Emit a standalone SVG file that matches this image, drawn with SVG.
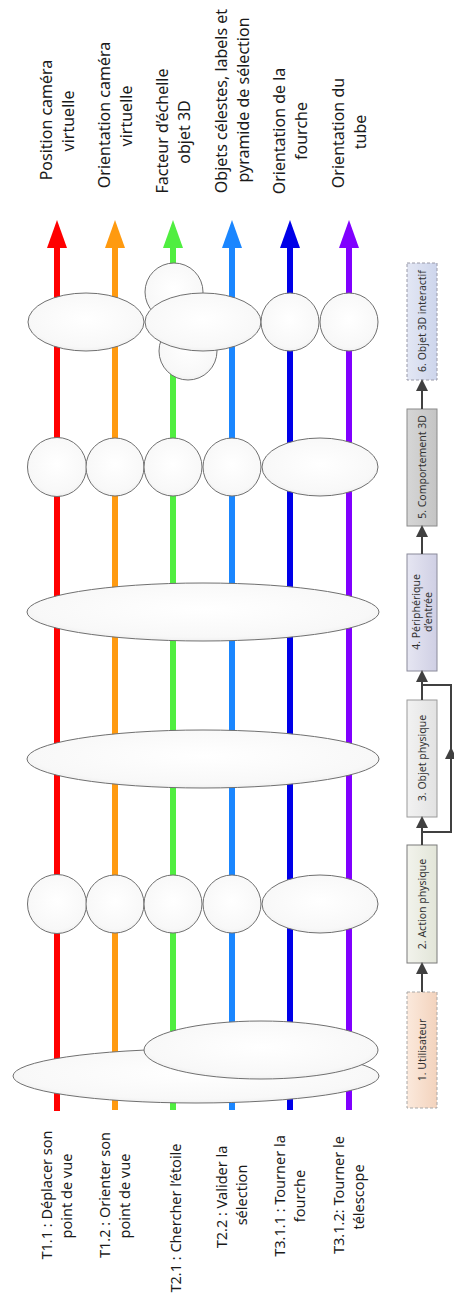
<svg xmlns="http://www.w3.org/2000/svg" width="454" height="1304" viewBox="0 0 454 1304">
<style>
.bg{fill:#ffffff}
.trk{fill:none;stroke-width:6}
.ell{fill:url(#eg);stroke:#707070;stroke-width:1}
.lb{font-family:"Noto Sans","Open Sans",sans-serif;font-size:14.5px;fill:#1a1a1a;text-anchor:middle}
.lt{font-family:"Noto Sans","Open Sans",sans-serif;font-size:16px;fill:#1a1a1a;text-anchor:middle}
.bx{stroke-width:1}
.bt{font-family:"Noto Sans","Open Sans",sans-serif;font-size:10.5px;fill:#333;text-anchor:middle}
.con{fill:none;stroke:#404040;stroke-width:2}
</style>
<defs>
<radialGradient id="eg" cx="50%" cy="45%" r="60%">
<stop offset="0" stop-color="#ffffff"/>
<stop offset="0.8" stop-color="#f8f8f8"/>
<stop offset="1" stop-color="#ebebeb"/>
</radialGradient>
<linearGradient id="g1" x1="0" y1="0" x2="1" y2="0"><stop offset="0" stop-color="#fbe9dc"/><stop offset="1" stop-color="#f3d3bd"/></linearGradient>
<linearGradient id="g2" x1="0" y1="0" x2="1" y2="0"><stop offset="0" stop-color="#f2f3ec"/><stop offset="1" stop-color="#e2e5d8"/></linearGradient>
<linearGradient id="g3" x1="0" y1="0" x2="1" y2="0"><stop offset="0" stop-color="#f2f2f2"/><stop offset="1" stop-color="#e2e2e2"/></linearGradient>
<linearGradient id="g4" x1="0" y1="0" x2="1" y2="0"><stop offset="0" stop-color="#e6e6f2"/><stop offset="1" stop-color="#cfcfe4"/></linearGradient>
<linearGradient id="g5" x1="0" y1="0" x2="1" y2="0"><stop offset="0" stop-color="#d6d6d6"/><stop offset="1" stop-color="#c4c4c4"/></linearGradient>
<linearGradient id="g6" x1="0" y1="0" x2="1" y2="0"><stop offset="0" stop-color="#e3e7f4"/><stop offset="1" stop-color="#cdd5ec"/></linearGradient>
<marker id="mR" markerUnits="userSpaceOnUse" markerWidth="30" markerHeight="22" refX="0" refY="10" orient="auto"><path d="M0,0 L28,10 L0,20 Z" fill="#ff0000"/></marker>
<marker id="mO" markerUnits="userSpaceOnUse" markerWidth="30" markerHeight="22" refX="0" refY="10" orient="auto"><path d="M0,0 L28,10 L0,20 Z" fill="#ff9a10"/></marker>
<marker id="mG" markerUnits="userSpaceOnUse" markerWidth="30" markerHeight="22" refX="0" refY="10" orient="auto"><path d="M0,0 L28,10 L0,20 Z" fill="#50ee40"/></marker>
<marker id="mB" markerUnits="userSpaceOnUse" markerWidth="30" markerHeight="22" refX="0" refY="10" orient="auto"><path d="M0,0 L28,10 L0,20 Z" fill="#1a86ff"/></marker>
<marker id="mD" markerUnits="userSpaceOnUse" markerWidth="30" markerHeight="22" refX="0" refY="10" orient="auto"><path d="M0,0 L28,10 L0,20 Z" fill="#0000e8"/></marker>
<marker id="mP" markerUnits="userSpaceOnUse" markerWidth="30" markerHeight="22" refX="0" refY="10" orient="auto"><path d="M0,0 L28,10 L0,20 Z" fill="#8000ff"/></marker>
<marker id="ah" markerUnits="userSpaceOnUse" markerWidth="14" markerHeight="14" refX="10" refY="6" orient="auto"><path d="M0,0 L12,6 L0,12 Z" fill="#404040"/></marker>
<marker id="am" markerUnits="userSpaceOnUse" markerWidth="14" markerHeight="14" refX="6" refY="6" orient="auto"><path d="M0,0 L12,6 L0,12 Z" fill="#404040"/></marker>
</defs>
<rect class="bg" x="0" y="0" width="454" height="1304"/>

<g id="tracks">
<path class="trk" stroke="#ff0000" d="M57,1111 V248" marker-end="url(#mR)"/>
<path class="trk" stroke="#ff9a10" d="M115,1110 V248" marker-end="url(#mO)"/>
<path class="trk" stroke="#50ee40" d="M173,1110 V248" marker-end="url(#mG)"/>
<path class="trk" stroke="#1a86ff" d="M232,1110 V248" marker-end="url(#mB)"/>
<path class="trk" stroke="#0000e8" d="M290,1110 V248" marker-end="url(#mD)"/>
<path class="trk" stroke="#8000ff" d="M349,1110 V248" marker-end="url(#mP)"/>
</g>

<g id="row1">
<ellipse class="ell" cx="196" cy="1076" rx="183" ry="27"/>
<ellipse class="ell" cx="261" cy="1050" rx="117" ry="29"/>
</g>
<g id="row2">
<circle class="ell" cx="57" cy="904" r="29.5"/>
<circle class="ell" cx="115" cy="904" r="29"/>
<circle class="ell" cx="173" cy="904" r="29"/>
<circle class="ell" cx="232" cy="904" r="29"/>
<ellipse class="ell" cx="320" cy="904" rx="58" ry="29"/>
</g>
<g id="row3">
<ellipse class="ell" cx="203" cy="759" rx="176" ry="29"/>
</g>
<g id="row4">
<ellipse class="ell" cx="203" cy="612" rx="176" ry="29"/>
</g>
<g id="row5">
<circle class="ell" cx="57" cy="467" r="29.5"/>
<circle class="ell" cx="115" cy="467" r="29"/>
<circle class="ell" cx="173" cy="467" r="29"/>
<circle class="ell" cx="232" cy="467" r="29"/>
<ellipse class="ell" cx="320" cy="467" rx="58" ry="29"/>
</g>
<g id="row6">
<ellipse class="ell" cx="86" cy="322" rx="58" ry="29"/>
<circle class="ell" cx="174" cy="292" r="29"/>
<circle class="ell" cx="188" cy="351" r="29"/>
<ellipse class="ell" cx="203" cy="322" rx="58" ry="29"/>
<circle class="ell" cx="290" cy="322" r="29"/>
<circle class="ell" cx="349" cy="322" r="29"/>
</g>

<g id="labels-bottom">
<text class="lb" transform="translate(52,1195) rotate(-90)">T1.1 : Déplacer son</text>
<text class="lb" transform="translate(72,1196) rotate(-90)">point de vue</text>
<text class="lb" transform="translate(110,1195) rotate(-90)">T1.2 : Orienter son</text>
<text class="lb" transform="translate(130,1196) rotate(-90)">point de vue</text>
<text class="lb" transform="translate(181,1218) rotate(-90)">T2.1 : Chercher l’étoile</text>
<text class="lb" transform="translate(227,1197) rotate(-90)">T2.2 : Valider la</text>
<text class="lb" transform="translate(247,1195) rotate(-90)">sélection</text>
<text class="lb" transform="translate(285,1196) rotate(-90)">T3.1.1 : Tourner la</text>
<text class="lb" transform="translate(305,1196) rotate(-90)">fourche</text>
<text class="lb" transform="translate(344,1195) rotate(-90)">T3.1.2: Tourner le</text>
<text class="lb" transform="translate(364,1197) rotate(-90)">télescope</text>
</g>

<g id="labels-top">
<text class="lt" transform="translate(52,120) rotate(-90)">Position caméra</text>
<text class="lt" transform="translate(74,121) rotate(-90)">virtuelle</text>
<text class="lt" transform="translate(110,115) rotate(-90)">Orientation caméra</text>
<text class="lt" transform="translate(132,116) rotate(-90)">virtuelle</text>
<text class="lt" transform="translate(168,131) rotate(-90)">Facteur d’échelle</text>
<text class="lt" transform="translate(190,132) rotate(-90)">objet 3D</text>
<text class="lt" transform="translate(227,101) rotate(-90)">Objets célestes, labels et</text>
<text class="lt" transform="translate(249,100) rotate(-90)">pyramide de sélection</text>
<text class="lt" transform="translate(285,131) rotate(-90)">Orientation de la</text>
<text class="lt" transform="translate(307,131) rotate(-90)">fourche</text>
<text class="lt" transform="translate(344,133) rotate(-90)">Orientation du</text>
<text class="lt" transform="translate(366,132) rotate(-90)">tube</text>
</g>

<g id="box1">
<rect class="bx" x="407" y="992" width="30" height="116" fill="url(#g1)" stroke="#a8a8a8" stroke-dasharray="3,2"/>
<text class="bt" transform="translate(426,1050) rotate(-90)">1. Utilisateur</text>
</g>
<g id="box2">
<rect class="bx" x="407" y="845" width="30" height="118" fill="url(#g2)" stroke="#7a7a7a"/>
<text class="bt" transform="translate(426,904) rotate(-90)">2. Action physique</text>
</g>
<g id="box3">
<rect class="bx" x="407" y="700" width="30" height="117" fill="url(#g3)" stroke="#9a9a9a"/>
<text class="bt" transform="translate(426,758) rotate(-90)">3. Objet physique</text>
</g>
<g id="box4">
<rect class="bx" x="407" y="554" width="30" height="117" fill="url(#g4)" stroke="#8a8a9a"/>
<text class="bt" transform="translate(420,612) rotate(-90)">4. Périphérique</text>
<text class="bt" transform="translate(432,612) rotate(-90)">d’entrée</text>
</g>
<g id="box5">
<rect class="bx" x="407" y="409" width="30" height="117" fill="url(#g5)" stroke="#8a8a8a"/>
<text class="bt" transform="translate(426,467) rotate(-90)">5. Comportement 3D</text>
</g>
<g id="box6">
<rect class="bx" x="407" y="263" width="30" height="117" fill="url(#g6)" stroke="#9a9aa8" stroke-dasharray="3,2"/>
<text class="bt" transform="translate(426,321) rotate(-90)">6. Objet 3D interactif</text>
</g>

<g id="connectors">
<path class="con" d="M422,992 V964" marker-end="url(#ah)"/>
<path class="con" d="M422,845 V818" marker-end="url(#ah)"/>
<path class="con" d="M422,700 V672" marker-end="url(#ah)"/>
<path class="con" d="M422,832 H451 V753" marker-end="url(#am)"/>
<path class="con" d="M451,753 V685 H422"/>
<path class="con" d="M422,554 V527" marker-end="url(#ah)"/>
<path class="con" d="M422,409 V381" marker-end="url(#ah)"/>
</g>
</svg>
